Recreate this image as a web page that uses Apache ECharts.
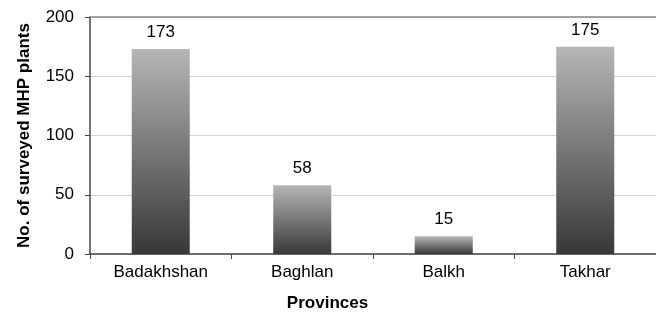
<!DOCTYPE html>
<html>
<head>
<meta charset="utf-8">
<script src="https://cdn.jsdelivr.net/npm/echarts@6/dist/echarts.min.js"></script>
<style>
  html, body { margin: 0; padding: 0; background: #fff; }
  #main { width: 656px; height: 317px; }
</style>
</head>
<body>
<div id="main"></div>
<script>
var provinces = ['Badakhshan', 'Baghlan', 'Balkh', 'Takhar'];
var plants = [173, 58, 15, 175];
var yTicks = { min: 0, max: 200, interval: 50 };

var chartDom = document.getElementById('main');
var myChart = echarts.init(chartDom);
var font = 'Liberation Sans, Arial, sans-serif';

var barColor = new echarts.graphic.LinearGradient(0, 0, 0, 1, [
    { offset: 0, color: '#b6b6b6' },
    { offset: 1, color: '#383838' }
]);

var option = {
    animation: false,
    backgroundColor: '#fff',
    grid: {
        left: 90,
        top: 17,
        width: 577,
        height: 241
    },
    xAxis: [{
        type: 'category',
        data: provinces,
        name: 'Provinces',
        nameLocation: 'middle',
        nameGap: 41,
        nameTextStyle: { fontFamily: font, fontSize: 17, fontWeight: 'bold', color: '#000', padding: [0, 91, 0, 0] },
        axisLine: { lineStyle: { color: '#444', width: 1.5 } },
        axisTick: { show: true, alignWithLabel: false, length: 5, lineStyle: { color: '#444' } },
        axisLabel: { fontFamily: font, fontSize: 17, color: '#000', margin: 10 }
    }, {
        type: 'category',
        position: 'top',
        data: provinces,
        axisLine: { lineStyle: { color: '#888', width: 1.5 } },
        axisTick: { show: false },
        axisLabel: { show: false }
    }],
    yAxis: {
        type: 'value',
        min: yTicks.min,
        max: yTicks.max,
        interval: yTicks.interval,
        name: 'No. of surveyed MHP plants',
        nameLocation: 'middle',
        nameGap: 57,
        nameTextStyle: { fontFamily: font, fontSize: 17, fontWeight: 'bold', color: '#000' },
        axisLine: { show: true, lineStyle: { color: '#444', width: 1.5 } },
        axisTick: { show: true, length: 5, lineStyle: { color: '#444' } },
        axisLabel: { fontFamily: font, fontSize: 17, color: '#000', margin: 16 },
        splitLine: { lineStyle: { color: '#d4d4d4' } }
    },
    series: [{
        type: 'bar',
        data: plants,
        barWidth: '41%',
        itemStyle: { color: barColor },
        label: {
            show: true,
            position: 'top',
            distance: 8,
            fontFamily: font,
            fontSize: 17,
            color: '#000'
        }
    }]
};

myChart.setOption(option);
</script>
</body>
</html>
